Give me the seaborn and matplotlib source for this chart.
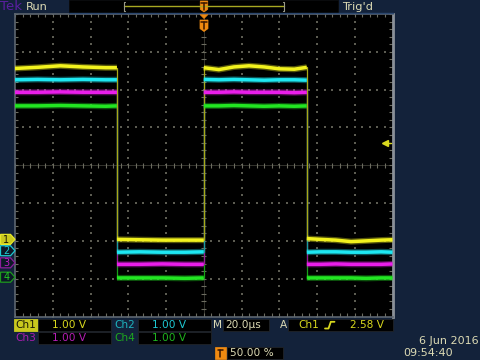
import numpy as np
import pandas as pd
import matplotlib
matplotlib.use('Agg')
import matplotlib.pyplot as plt
import seaborn as sns
from matplotlib.patches import Rectangle, Polygon

# ---------------- data ----------------
channels = ['Ch1', 'Ch2', 'Ch3', 'Ch4']
trace_colors = ['#f2f21e', '#1ee8f2', '#ea1eea', '#22e622']
edge_colors = ['#a8a818', '#189aa2', '#9a189a', '#18a018']
volts_per_div = [1.0, 1.0, 1.0, 1.0]
offsets_div = [-2.0, -2.3, -2.62, -3.0]
time_per_div = 20.0          # µs
trigger_level = 2.58         # V on Ch1
trigger_pos_pct = 50.0

edge_times = [-46.0, 0.0, 54.6]   # µs

sample_t = [-100, -88, -76, -64, -52, -46.0,
            -46.0, -34, -22, -10, 0.0,
            0.0, 8, 16, 24, 32, 40, 48, 54.6,
            54.6, 62, 70, 78, 86, 94, 100]
sample_seg = [0] * 6 + [1] * 5 + [2] * 8 + [3] * 7

ch1_v = [4.56, 4.59, 4.63, 4.60, 4.58, 4.58,
         0.04, 0.03, 0.02, 0.02, 0.02,
         4.58, 4.53, 4.60, 4.63, 4.60, 4.55, 4.54, 4.59,
         0.06, 0.04, 0.02, -0.02, 0.00, 0.02, 0.03]
ch2_v = [4.56, 4.57, 4.56, 4.57, 4.56, 4.56,
         0.00, 0.01, 0.00, 0.00, 0.01,
         4.57, 4.56, 4.57, 4.56, 4.55, 4.56, 4.56, 4.55,
         0.00, 0.01, 0.01, 0.00, 0.00, 0.01, 0.00]
ch3_v = [4.55, 4.55, 4.56, 4.55, 4.55, 4.55,
         0.00, 0.00, 0.01, 0.00, 0.00,
         4.55, 4.55, 4.56, 4.55, 4.55, 4.55, 4.54, 4.55,
         0.00, 0.00, 0.01, 0.00, 0.00, 0.00, 0.01]
ch4_v = [4.57, 4.57, 4.58, 4.57, 4.56, 4.57,
         0.02, 0.02, 0.02, 0.01, 0.02,
         4.57, 4.57, 4.58, 4.57, 4.56, 4.57, 4.56, 4.57,
         0.02, 0.02, 0.02, 0.02, 0.01, 0.02, 0.02]
channel_values = [ch1_v, ch2_v, ch3_v, ch4_v]

scale_labels = ['1.00 V', '1.00 V', '1.00 V', '1.00 V']
timebase_label = '20.0µs'
trigger_label = '2.58 V'
date_label = '6 Jun 2016'
time_label = '09:54:40'

# ---------------- style ----------------
sns.set_theme(style='dark', rc={'axes.grid': False})
plt.rcParams['font.family'] = ['DejaVu Sans']

NAVY = '#13223a'
BEIGE = '#dcdab4'
W, H = 480, 360
fig = plt.figure(figsize=(4.8, 3.6), dpi=100)
fig.patch.set_facecolor(NAVY)

gx0, gx1, gy0, gy1 = 15.0, 392.5, 14.0, 316.5
ax = fig.add_axes([gx0 / W, 1 - gy1 / H, (gx1 - gx0) / W, (gy1 - gy0) / H])
ax.set_facecolor('black')
ax.set_xlim(-5 * time_per_div, 5 * time_per_div)
ax.set_ylim(-4, 4)

# graticule
minor_t = np.arange(-100, 100.001, time_per_div / 5)
minor_d = np.arange(-4, 4.001, 0.2)
dot_c = '#5c5c52'
for yk in [-3, -2, -1, 1, 2, 3]:
    ax.scatter(minor_t, np.full_like(minor_t, yk), s=1.1, c=dot_c, marker='s', linewidths=0, zorder=1)
for xk in [-80, -60, -40, -20, 20, 40, 60, 80]:
    ax.scatter(np.full_like(minor_d, xk), minor_d, s=1.1, c=dot_c, marker='s', linewidths=0, zorder=1)
ax.axhline(0, color='#34342e', lw=0.7, zorder=1)
ax.axvline(0, color='#34342e', lw=0.7, zorder=1)
tick_c = '#6c6c60'
ax.vlines(minor_t, -0.06, 0.06, color=tick_c, lw=0.8, zorder=1)
ax.hlines(minor_d, -1.3, 1.3, color=tick_c, lw=0.8, zorder=1)
ax.vlines(minor_t, 4 - 0.08, 4, color=tick_c, lw=0.8, zorder=1)
ax.vlines(minor_t, -4, -4 + 0.08, color=tick_c, lw=0.8, zorder=1)
ax.hlines(minor_d, -100, -100 + 1.6, color=tick_c, lw=0.8, zorder=1)
ax.hlines(minor_d, 100 - 1.6, 100, color=tick_c, lw=0.8, zorder=1)

# traces
seg_arr = np.array(sample_seg)
ys = [np.array(v) / vpd + off for v, vpd, off in zip(channel_values, volts_per_div, offsets_div)]
# edges first (Ch1 drawn last so it is on top)
for y, col in list(zip(ys, edge_colors))[::-1]:
    rows = []
    for k, te in enumerate(edge_times):
        i_end = np.where(seg_arr == k)[0][-1]
        i_start = np.where(seg_arr == k + 1)[0][0]
        rows.append({'t': te, 'y': y[i_end], 'seg': k})
        rows.append({'t': te, 'y': y[i_start], 'seg': k})
    dfe = pd.DataFrame(rows)
    sns.lineplot(data=dfe, x='t', y='y', units='seg', estimator=None, sort=False,
                 color=col, lw=0.9, alpha=1.0, ax=ax, legend=False, zorder=2)
for y, col in zip(ys, trace_colors):
    df = pd.DataFrame({'t': sample_t, 'y': y, 'seg': sample_seg})
    sns.lineplot(data=df, x='t', y='y', units='seg', estimator=None, sort=False,
                 color=col, lw=4.4, alpha=0.35, ax=ax, legend=False, zorder=3,
                 solid_capstyle='butt')
    sns.lineplot(data=df, x='t', y='y', units='seg', estimator=None, sort=False,
                 color=col, lw=2.5, alpha=1.0, ax=ax, legend=False, zorder=4,
                 solid_capstyle='butt')

# trigger level arrow (right edge)
ty = trigger_level / volts_per_div[0] + offsets_div[0]
ax.plot([96.5, 99], [ty, ty], color='#d8d81e', lw=1.0, zorder=5)
ax.plot([95.8], [ty], marker='<', ms=5, color='#d8d81e', zorder=5)

ax.set_xticks([]); ax.set_yticks([])
ax.set_xlabel(''); ax.set_ylabel('')
for s in ax.spines.values():
    s.set_color('#5d6670'); s.set_linewidth(1.2)
ax.spines['right'].set_color('#8a9098'); ax.spines['right'].set_linewidth(2.0)

# ---------------- UI overlay (pixel coords) ----------------
ui = fig.add_axes([0, 0, 1, 1])
ui.set_xlim(0, W); ui.set_ylim(H, 0)
ui.axis('off'); ui.patch.set_visible(False); ui.set_zorder(5)

FS = 7.6
def txt(x, y, s, c, ha='left', fs=FS, **kw):
    ui.text(x, y, s, color=c, ha=ha, va='center', fontsize=fs, **kw)

def box(x, y, w, h, fc='black', ec='#202428'):
    ui.add_patch(Rectangle((x, y), w, h, facecolor=fc, edgecolor=ec, lw=0.6))

ORANGE = '#f08a10'
def tmark(cx, top, h=11.0, w=8.0):
    pts = [(cx - w / 2, top), (cx + w / 2, top), (cx + w / 2, top + h * 0.75),
           (cx, top + h), (cx - w / 2, top + h * 0.75)]
    ui.add_patch(Polygon(pts, closed=True, facecolor=ORANGE, edgecolor=ORANGE, lw=0.5))
    ui.plot([cx - 2.6, cx + 2.6], [top + 2.2, top + 2.2], color='#3a1600', lw=1.1)
    ui.plot([cx, cx], [top + 2.2, top + h * 0.8], color='#3a1600', lw=1.1)

# top bar
txt(0.5, 6.5, 'Tek', '#5a1fa0', fs=9.6)
txt(26, 6.5, 'Run', BEIGE, fs=8.2)
box(69, -0.5, 269, 13, ec='#0a0a0a')
ui.plot([69, 393], [13, 13], color='#2c4870', lw=1.0)
ui.plot([123.5, 284], [6, 6], color='#a8a822', lw=1.0)
for bx, d in [(123.5, 1.5), (284, -1.5)]:
    ui.plot([bx + d, bx, bx, bx + d], [1.5, 1.5, 10.5, 10.5], color='#9a9a8a', lw=0.8)
tmark(204, 1.0, h=11.0, w=7.5)
txt(342, 6.5, "Trig'd", BEIGE, fs=8.2)

# trigger position marker on graticule
ui.add_patch(Polygon([(200, 14.5), (208, 14.5), (204, 18.5)], closed=True,
                     facecolor=ORANGE, edgecolor=ORANGE, lw=0.5))
tmark(204, 20.0, h=11.5, w=8.0)

# channel ground markers
pxdiv = (gy1 - gy0) / 8
cy = (gy0 + gy1) / 2
mark_fc = ['#c8c81e', '#0c1826', '#0c1826', '#0c1826']
mark_ec = ['#e6e628', '#1ec8d2', '#8a1e9a', '#1e9a1e']
mark_tc = ['#1a1a06', '#1ec8d2', '#c01ec8', '#22c822']
for i, (off, fc, ec, tc) in enumerate(zip(offsets_div, mark_fc, mark_ec, mark_tc)):
    yc = cy - off * pxdiv - 1.5
    pts = [(0.5, yc - 5.0), (10.5, yc - 5.0), (15.0, yc), (10.5, yc + 5.0), (0.5, yc + 5.0)]
    ui.add_patch(Polygon(pts, closed=True, facecolor=fc, edgecolor=ec, lw=0.9))
    txt(6.3, yc + 0.3, str(i + 1), tc, ha='center', fs=7.0)

# bottom readouts
ch_txt_c = ['#1a1a06', '#1eb4be', '#a81eb0', '#1ea81e']
val_c = ['#d8d81e', '#1ec8d2', '#b41eb4', '#1eb41e']
r1, r2 = 319.0, 332.0
box(14, r1, 23.5, 12, fc='#c8c81e', ec='#c8c81e')
txt(15.5, r1 + 6.2, channels[0], ch_txt_c[0])
box(38, r1, 73, 12); txt(52, r1 + 6.2, scale_labels[0], val_c[0])
txt(114, r1 + 6.2, channels[1], ch_txt_c[1])
box(138, r1, 73, 12); txt(152, r1 + 6.2, scale_labels[1], val_c[1])
txt(15, r2 + 6.2, channels[2], ch_txt_c[2])
box(38, r2, 73, 12); txt(52, r2 + 6.2, scale_labels[2], val_c[2])
txt(114, r2 + 6.2, channels[3], ch_txt_c[3])
box(138, r2, 73, 12); txt(152, r2 + 6.2, scale_labels[3], val_c[3])

txt(213, r1 + 6.2, 'M', BEIGE)
box(223, r1, 45.5, 12); txt(225, r1 + 6.2, timebase_label, BEIGE)
txt(280, r1 + 6.2, 'A', BEIGE)
box(288, r1, 104.5, 12)
txt(298, r1 + 6.2, channels[0], val_c[0])
ui.plot([325, 328.5, 330.8, 334.5], [328.5, 328.5, 321.8, 321.8], color=val_c[0], lw=1.3)
txt(350.5, r1 + 6.2, trigger_label, val_c[0])

ui.add_patch(Rectangle((215, 347), 10.5, 11.5, facecolor=ORANGE, edgecolor=ORANGE, lw=0.5))
ui.plot([217.6, 222.9], [349.6, 349.6], color='#3a1600', lw=1.1)
ui.plot([220.25, 220.25], [349.6, 356.5], color='#3a1600', lw=1.1)
box(227, 347, 55.5, 11.5); txt(229.5, 352.8, f'{trigger_pos_pct:.2f} %', BEIGE)

txt(478.5, 340.8, date_label, BEIGE, ha='right', fs=8.0)
txt(403, 353.0, time_label, BEIGE, fs=8.0)

fig.savefig('out.png', dpi=100, facecolor=fig.get_facecolor())
